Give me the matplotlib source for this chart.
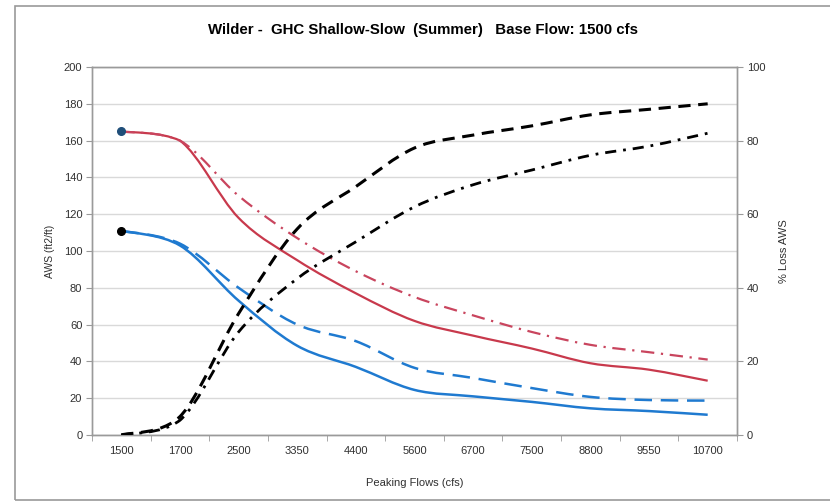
import matplotlib
matplotlib.use("Agg")
import matplotlib.pyplot as plt
from matplotlib.patches import Rectangle, PathPatch
from matplotlib.path import Path

plt.rcParams['font.family'] = ['Liberation Sans', 'DejaVu Sans']

categories = ['1500', '1700', '2500', '3350', '4400', '5600', '6700', '7500', '8800', '9550', '10700']
aws_red_solid = [165, 160, 118, 95, 77, 62, 54, 47, 39, 35.5, 29.5]
aws_red_dashdot = [165, 160, 130, 107, 89, 75, 65, 56, 49, 45, 41]
aws_blue_solid = [111, 103, 73, 48.5, 37, 24.5, 21, 18, 14.5, 13, 11]
aws_blue_dashed = [111, 104, 80, 60, 51, 36.5, 31, 25.5, 20.7, 19, 18.7]
loss_black_dashed = [0, 5, 33, 56, 67.5, 78, 81.5, 84, 87, 88.5, 90]
loss_black_dashdot = [0, 4, 28, 42.5, 52.5, 62, 68, 72, 76, 78.5, 82]
left_ticks = [0, 20, 40, 60, 80, 100, 120, 140, 160, 180, 200]
right_ticks = [0, 20, 40, 60, 80, 100]

W, H = 830, 504
fig = plt.figure(figsize=(W / 100, H / 100), dpi=100)
fig.patch.set_facecolor('white')
fig.add_artist(Rectangle((15 / W, 1 - 500 / H), 830 / W, 494 / H, transform=fig.transFigure,
                         fill=False, edgecolor='#9a9a9a', linewidth=1.2))

ax = fig.add_axes([92 / W, 1 - 435 / H, (737 - 92) / W, (435 - 67) / H])
ax2 = ax.twinx()

x = list(range(len(categories)))
red = '#C8394C'
red2 = '#C9455E'
blue = '#1F7AD0'


def _clamp(v, a, b):
    lo, hi = min(a, b), max(a, b)
    return max(lo, min(hi, v))


def smooth_line(axis, xs, ys, color, lw, dashes=None, zorder=3):
    """Excel-style smoothed line: cubic Bezier path through the data points."""
    pts = list(zip(xs, ys))
    n = len(pts)
    verts = [pts[0]]
    codes = [Path.MOVETO]
    for i in range(n - 1):
        p0 = pts[i - 1] if i > 0 else pts[i]
        p1 = pts[i]
        p2 = pts[i + 1]
        p3 = pts[i + 2] if i + 2 < n else pts[i + 1]
        c1 = (p1[0] + (p2[0] - p0[0]) / 6,
              _clamp(p1[1] + (p2[1] - p0[1]) / 6, p1[1], p2[1]))
        c2 = (p2[0] - (p3[0] - p1[0]) / 6,
              _clamp(p2[1] - (p3[1] - p1[1]) / 6, p1[1], p2[1]))
        verts += [c1, c2, p2]
        codes += [Path.CURVE4] * 3
    ls = '-' if dashes is None else (0, dashes)
    patch = PathPatch(Path(verts, codes), fill=False, edgecolor=color, lw=lw,
                      linestyle=ls, capstyle='butt', joinstyle='round', zorder=zorder)
    axis.add_patch(patch)


smooth_line(ax, x, aws_red_solid, red, 1.6)
smooth_line(ax, x, aws_red_dashdot, red2, 1.6, (6, 3, 1, 3))
smooth_line(ax, x, aws_blue_solid, blue, 1.8)
smooth_line(ax, x, aws_blue_dashed, blue, 1.8, (7, 3.5))
smooth_line(ax2, x, loss_black_dashed, 'black', 2.2, (4, 2.5))
smooth_line(ax2, x, loss_black_dashdot, 'black', 2.0, (4, 2.5, 1, 2.5))

# start-point markers
ax.plot(x[:1], aws_red_solid[:1], 'o', ms=5.5, mfc='#1F4E79', mec='#1F4E79', zorder=4)
ax.plot(x[:1], aws_blue_solid[:1], 'o', ms=5.5, mfc='black', mec='black', zorder=4)

ax.set_xlim(-0.5, len(categories) - 0.5)
ax.set_ylim(0, 200)
ax2.set_ylim(0, 100)
ax.set_yticks(left_ticks)
ax2.set_yticks(right_ticks)
ax.set_xticks(x)
ax.set_xticklabels(categories)
ax.set_xticks([i - 0.5 for i in range(len(categories) + 1)], minor=True)
ax.tick_params(axis='x', which='major', length=0, pad=8, labelsize=8, labelcolor='#303030')
ax.tick_params(axis='x', which='minor', length=4, color='#9a9a9a', direction='out')
ax.tick_params(axis='y', length=4, color='#9a9a9a', labelsize=8, labelcolor='#303030', pad=3)
ax2.tick_params(axis='y', length=4, color='#9a9a9a', labelsize=8, labelcolor='#303030', pad=3)

ax.grid(axis='y', color='#d9d9d9', lw=1.0)
ax.set_axisbelow(True)
for a in (ax, ax2):
    for s in a.spines.values():
        s.set_color('#9a9a9a')
        s.set_linewidth(1.0)

ax.set_ylabel('AWS (ft2/ft)', fontsize=7.5, color='#303030', labelpad=6)
ax2.set_ylabel('% Loss AWS', fontsize=8, color='#303030', labelpad=10)
ax.set_xlabel('Peaking Flows (cfs)', fontsize=8, color='#303030', labelpad=16)

fig.text(423 / W, 1 - 30 / H, 'Wilder -  GHC Shallow-Slow  (Summer)   Base Flow: 1500 cfs',
         ha='center', va='center', fontsize=10.8, fontweight='bold', color='black')

fig.savefig('out.png', dpi=100)
